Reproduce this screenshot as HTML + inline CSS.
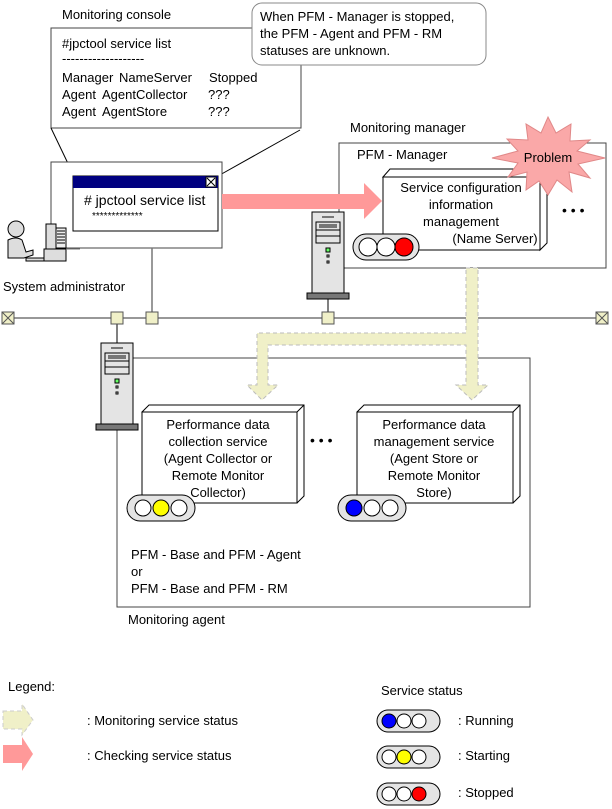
<!DOCTYPE html>
<html><head><meta charset="utf-8"><style>
html,body{margin:0;padding:0;background:#fff}
svg{display:block}
text{font-family:"Liberation Sans",sans-serif;font-size:13px;fill:#000}
</style></head><body>
<svg width="612" height="809" viewBox="0 0 612 809" xmlns="http://www.w3.org/2000/svg">
<defs>
<g id="srv">
<rect x="0" y="0" width="32" height="81" fill="#e4e4e4" stroke="#000"/>
<line x1="10" y1="5" x2="22" y2="5" stroke="#777" stroke-width="2"/>
<rect x="4" y="10" width="24" height="8" fill="#e4e4e4" stroke="#000"/>
<rect x="7" y="12" width="18" height="4" fill="#777"/>
<rect x="4" y="18" width="24" height="6" fill="#e4e4e4" stroke="#000"/>
<rect x="4" y="24" width="24" height="7" fill="#e4e4e4" stroke="#000"/>
<rect x="14" y="36" width="4" height="4" fill="#6f6" stroke="#000"/>
<rect x="15" y="43" width="2" height="2" fill="#fff" stroke="#000"/>
<rect x="15" y="49" width="2" height="2" fill="#fff" stroke="#000"/>
<rect x="-5" y="81" width="42" height="6" fill="#777" stroke="#000"/>
</g>
<g id="term"><rect x="-6" y="-6" width="12" height="12" fill="#f0f0c8" stroke="#555"/><path d="M-6,-6L6,6M6,-6L-6,6" stroke="#555"/></g>
<rect id="sq" x="-6" y="-6" width="12" height="12" fill="#f0f0c8" stroke="#555"/>
</defs>

<!-- console callout -->
<text x="62" y="19">Monitoring console</text>
<rect x="51" y="28" width="250" height="100" fill="#fff" stroke="#444"/>
<text x="62" y="48">#jpctool service list</text>
<text x="62" y="63">-------------------</text>
<text x="62" y="82">Manager</text><text x="119" y="82">NameServer</text><text x="209" y="82">Stopped</text>
<text x="62" y="99">Agent</text><text x="102" y="99">AgentCollector</text><text x="208" y="99">???</text>
<text x="62" y="116">Agent</text><text x="102" y="116">AgentStore</text><text x="208" y="116">???</text>
<line x1="51" y1="128" x2="74" y2="176" stroke="#000"/>
<line x1="300" y1="130" x2="218" y2="176" stroke="#000"/>
<rect x="252" y="3" width="234" height="62" rx="10" fill="#fff" stroke="#888"/>
<text x="260" y="21">When PFM - Manager is stopped,</text>
<text x="260" y="38">the PFM - Agent and PFM - RM</text>
<text x="260" y="55">statuses are unknown.</text>

<!-- console window -->
<rect x="51" y="162" width="171" height="86" fill="#fff" stroke="#444"/>
<rect x="73" y="176" width="145" height="55" fill="#fff" stroke="#000"/>
<rect x="73" y="176" width="145" height="12" fill="#000080"/>
<rect x="206" y="177" width="10" height="10" fill="#fff" stroke="#000"/>
<path d="M207,178L215,186M215,178L207,186" stroke="#000"/>
<text x="84" y="205" style="font-size:14px"># jpctool service list</text>
<text x="92" y="219" style="font-size:10px">*************</text>

<!-- person -->
<circle cx="16" cy="229" r="8" fill="#ddd" stroke="#000"/>
<path d="M8,240 Q16,236 22,240 L26,252 L33,250 L33,255 L24,258 L8,258 Z" fill="#ddd" stroke="#000"/>
<rect x="26" y="258" width="18" height="3" fill="#ddd" stroke="#000"/>
<rect x="46" y="224" width="10" height="25" fill="#ddd" stroke="#000"/>
<rect x="56" y="228" width="10" height="20" fill="#eee" stroke="#000"/>
<path d="M57,231h8M57,234h8M57,237h8M57,240h8M57,243h8" stroke="#000"/>
<rect x="44" y="249" width="22" height="12" fill="#ddd" stroke="#000"/>
<line x1="66" y1="249" x2="80" y2="249" stroke="#777"/>
<text x="3" y="291">System administrator</text>

<!-- network -->
<line x1="152" y1="248" x2="152" y2="318" stroke="#777" stroke-width="1.5"/>
<line x1="8" y1="318" x2="602" y2="318" stroke="#777" stroke-width="1.5"/>
<use href="#term" x="8" y="318"/>
<use href="#term" x="602" y="318"/>

<!-- manager -->
<text x="350" y="132">Monitoring manager</text>
<rect x="339" y="143" width="267" height="125" fill="#fff" stroke="#444"/>
<text x="357" y="159">PFM - Manager</text>
<path d="M383,177 L390,169 L547,169 L547,243 L540,250 L540,177 Z" fill="#fff" stroke="#000"/>
<rect x="383" y="177" width="157" height="73" fill="#fff" stroke="#000"/>
<line x1="540" y1="177" x2="547" y2="169" stroke="#000"/>
<text x="461" y="192" text-anchor="middle">Service configuration</text>
<text x="461" y="209" text-anchor="middle">information</text>
<text x="461" y="226" text-anchor="middle">management</text>
<text x="495" y="243" text-anchor="middle">(Name Server)</text>
<text x="562" y="215" style="font-size:14px">• • •</text>
<path d="M548,117 L556,133 L571,124 L570,141 L590,140 L577,151 L605,158 L578,164 L590,178 L569,172 L572,192 L557,180 L548,195 L539,181 L526,190 L527,172 L508,177 L518,163 L492,158 L518,151 L507,139 L528,140 L526,124 L541,133 Z" fill="#faa8a8" stroke="#e08888"/>
<text x="548" y="162" text-anchor="middle">Problem</text>
<g transform="translate(353,234)"><rect x="0" y="0" width="66" height="26" rx="13" fill="#e4e4e4" stroke="#000"/><circle cx="15" cy="13" r="9" fill="#fff" stroke="#000"/><circle cx="33" cy="13" r="9" fill="#fff" stroke="#000"/><circle cx="51" cy="13" r="9" fill="#f00" stroke="#000"/></g>
<use href="#srv" x="312" y="212"/>
<line x1="328" y1="299" x2="328" y2="318" stroke="#000"/>

<!-- red arrow -->
<path d="M222,194 L364,194 L364,183 L382,201 L364,219 L364,209 L222,209 Z" fill="#f99"/>

<!-- agent -->
<rect x="117" y="358" width="413" height="249" fill="#fff" stroke="#444"/>
<use href="#srv" x="101" y="343"/>
<line x1="117" y1="318" x2="117" y2="343" stroke="#000"/>

<!-- yellow arrows -->
<path d="M466,268 L478,268 L478,385 L488,385 L472,400 L456,385 L466,385 L466,345 L268,345 L268,385 L278,385 L262,400 L247,385 L257,385 L257,333 L466,333 Z" fill="#f0f0c8" stroke="#bbb" stroke-dasharray="4,3"/>

<use href="#sq" x="117" y="318"/>
<use href="#sq" x="152" y="318"/>
<use href="#sq" x="328" y="318"/>

<path d="M142,412 L149,405 L304,405 L304,496 L297,503 Z" fill="#fff" stroke="#000"/>
<rect x="142" y="412" width="155" height="91" fill="#fff" stroke="#000"/>
<line x1="297" y1="412" x2="304" y2="405" stroke="#000"/>
<text x="218" y="429" text-anchor="middle">Performance data</text>
<text x="218" y="446" text-anchor="middle">collection service</text>
<text x="218" y="463" text-anchor="middle">(Agent Collector or</text>
<text x="218" y="480" text-anchor="middle">Remote Monitor</text>
<text x="218" y="497" text-anchor="middle">Collector)</text>

<path d="M357,412 L364,405 L520,405 L520,496 L513,503 Z" fill="#fff" stroke="#000"/>
<rect x="357" y="412" width="156" height="91" fill="#fff" stroke="#000"/>
<line x1="513" y1="412" x2="520" y2="405" stroke="#000"/>
<text x="434" y="429" text-anchor="middle">Performance data</text>
<text x="434" y="446" text-anchor="middle">management service</text>
<text x="434" y="463" text-anchor="middle">(Agent Store or</text>
<text x="434" y="480" text-anchor="middle">Remote Monitor</text>
<text x="434" y="497" text-anchor="middle">Store)</text>
<text x="310" y="445" style="font-size:14px">• • •</text>

<g transform="translate(127,495)"><rect x="0" y="0" width="68" height="26" rx="13" fill="#e4e4e4" stroke="#000"/><circle cx="16" cy="13" r="8" fill="#fff" stroke="#000"/><circle cx="34" cy="13" r="8" fill="#ff0" stroke="#000"/><circle cx="52" cy="13" r="8" fill="#fff" stroke="#000"/></g>
<g transform="translate(338,495)"><rect x="0" y="0" width="68" height="26" rx="13" fill="#e4e4e4" stroke="#000"/><circle cx="16" cy="13" r="8" fill="#00f" stroke="#000"/><circle cx="34" cy="13" r="8" fill="#fff" stroke="#000"/><circle cx="52" cy="13" r="8" fill="#fff" stroke="#000"/></g>

<text x="131" y="559">PFM - Base and PFM - Agent</text>
<text x="131" y="576">or</text>
<text x="131" y="593">PFM - Base and PFM - RM</text>
<text x="128" y="624">Monitoring agent</text>

<!-- legend -->
<text x="8" y="691">Legend:</text>
<path d="M3,711 L22,711 L22,704 L33,720 L22,735 L22,729 L3,729 Z" fill="#f0f0c8" stroke="#ccc" stroke-dasharray="4,3"/>
<path d="M3,745 L22,745 L22,737 L33,754 L22,771 L22,763 L3,763 Z" fill="#f99"/>
<text x="87" y="725">: Monitoring service status</text>
<text x="87" y="760">: Checking service status</text>
<text x="381" y="695">Service status</text>
<g transform="translate(377,710)"><rect x="0" y="0" width="63" height="22" rx="11" fill="#e4e4e4" stroke="#000"/><circle cx="12" cy="11" r="7" fill="#00f" stroke="#000"/><circle cx="27" cy="11" r="7" fill="#fff" stroke="#000"/><circle cx="42" cy="11" r="7" fill="#fff" stroke="#000"/></g>
<g transform="translate(377,746)"><rect x="0" y="0" width="63" height="22" rx="11" fill="#e4e4e4" stroke="#000"/><circle cx="12" cy="11" r="7" fill="#fff" stroke="#000"/><circle cx="27" cy="11" r="7" fill="#ff0" stroke="#000"/><circle cx="42" cy="11" r="7" fill="#fff" stroke="#000"/></g>
<g transform="translate(377,783)"><rect x="0" y="0" width="63" height="22" rx="11" fill="#e4e4e4" stroke="#000"/><circle cx="12" cy="11" r="7" fill="#fff" stroke="#000"/><circle cx="27" cy="11" r="7" fill="#fff" stroke="#000"/><circle cx="42" cy="11" r="7" fill="#f00" stroke="#000"/></g>
<text x="458" y="725">: Running</text>
<text x="458" y="760">: Starting</text>
<text x="458" y="797">: Stopped</text>
</svg>
</body></html>
